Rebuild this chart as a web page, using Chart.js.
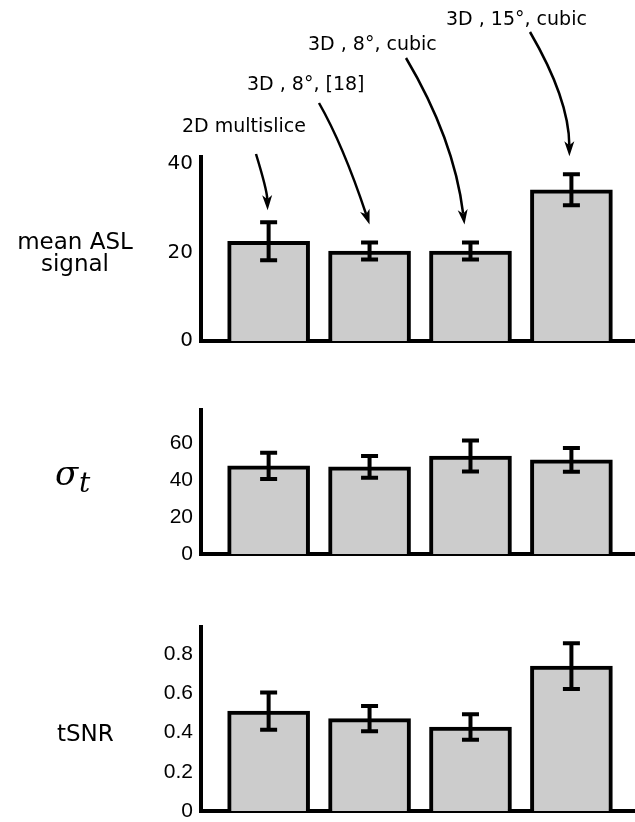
<!DOCTYPE html>
<html>
<head>
<meta charset="utf-8">
<script src="https://cdn.jsdelivr.net/npm/chart.js@4"></script>
<style>
  body { margin: 0; background: #fff; overflow: hidden; }
  canvas { position: absolute; left: 0; }
  .lbl { position: absolute; font-family: "DejaVu Sans"; color: #000; white-space: nowrap; line-height: 1; }
  .note { font-size: 19px; }
  .row { font-size: 23px; line-height: 22px; }
  .sig { position: absolute; font-family: "DejaVu Serif"; font-style: italic; line-height: 1; }
</style>
</head>
<body>
<canvas id="asl" width="635" height="352" style="top:0"></canvas>
<canvas id="sigma" width="635" height="185" style="top:380px"></canvas>
<canvas id="tsnr" width="635" height="222" style="top:600px"></canvas>

<!-- method labels above the first panel -->
<div class="lbl note" style="left:182px;top:116px">2D multislice</div>
<div class="lbl note" style="left:247px;top:74px">3D , 8°, [18]</div>
<div class="lbl note" style="left:308px;top:34px">3D , 8°, cubic</div>
<div class="lbl note" style="left:446px;top:9px">3D , 15°, cubic</div>

<!-- row labels -->
<div class="lbl row" style="left:0;width:150px;top:230px;text-align:center">mean ASL<br>signal</div>
<div class="sig" style="left:55px;top:456px;font-size:34px">σ</div>
<div class="sig" style="left:79px;top:469px;font-size:28px">t</div>
<div class="lbl row" style="left:57px;top:722px">tSNR</div>

<script>
// bar positions and method names
const positions = [1, 2, 3, 4];
const methods = ['2D multislice', '3D , 8°, [18]', '3D , 8°, cubic', '3D , 15°, cubic'];

// mean ASL signal
const aslMean = [22.5, 20.3, 20.3, 34.1];
const aslErr = [4.3, 1.9, 1.9, 3.5];
const aslTicks = [0, 20, 40];

// sigma_t
const sigmaMean = [47.7, 47.2, 53.1, 51.0];
const sigmaErr = [7.1, 5.9, 8.4, 6.4];
const sigmaTicks = [0, 20, 40, 60];

// tSNR
const tsnrMean = [0.51, 0.472, 0.429, 0.74];
const tsnrErr = [0.095, 0.065, 0.065, 0.117];
const tsnrTicks = [0, 0.2, 0.4, 0.6, 0.8];

// arrow layout (pixels): start point and bend control point
const arrowFrom = [[256, 154], [319, 103], [406, 58], [530, 32]];
const arrowBend = [[267, 190], [343, 145], [454, 139], [569, 99]];
const arrowDx = [-1, 0, -6, -2];
const arrowGap = [12, 18, 18, 18];

const errorBars = {
  id: 'errorBars',
  afterDatasetsDraw(chart, args, opts) {
    const { ctx, scales: { x, y } } = chart;
    const pts = chart.data.datasets[0].data;
    ctx.save();
    ctx.strokeStyle = '#000';
    ctx.lineWidth = 4;
    pts.forEach((d, i) => {
      const e = opts.errors[i];
      const px = x.getPixelForValue(d.x);
      const top = y.getPixelForValue(d.y + e);
      const bot = y.getPixelForValue(d.y - e);
      ctx.beginPath();
      ctx.moveTo(px, top); ctx.lineTo(px, bot);
      ctx.moveTo(px - 8.5, top); ctx.lineTo(px + 8.5, top);
      ctx.moveTo(px - 8.5, bot); ctx.lineTo(px + 8.5, bot);
      ctx.stroke();
    });
    ctx.restore();
  }
};

const arrows = {
  id: 'arrows',
  afterDraw(chart, args, opts) {
    if (!opts.on) return;
    const { ctx, scales: { x, y } } = chart;
    ctx.save();
    ctx.strokeStyle = '#000';
    ctx.fillStyle = '#000';
    ctx.lineWidth = 2.5;
    positions.forEach((p, i) => {
      const ex = x.getPixelForValue(p) + arrowDx[i];
      const ey = y.getPixelForValue(aslMean[i] + aslErr[i]) - arrowGap[i];
      const [sx, sy] = arrowFrom[i];
      const [cx, cy] = arrowBend[i];
      let dx = ex - cx, dy = ey - cy;
      const len = Math.hypot(dx, dy);
      dx /= len; dy /= len;
      const head = 15, half = 5, notch = 4;
      const nx = ex - dx * (head - notch), ny = ey - dy * (head - notch);
      const bx = ex - dx * head, by = ey - dy * head;
      ctx.beginPath();
      ctx.moveTo(sx, sy);
      ctx.quadraticCurveTo(cx, cy, nx, ny);
      ctx.stroke();
      ctx.beginPath();
      ctx.moveTo(ex, ey);
      ctx.lineTo(bx - dy * half, by + dx * half);
      ctx.lineTo(nx, ny);
      ctx.lineTo(bx + dy * half, by - dx * half);
      ctx.closePath();
      ctx.fill();
    });
    ctx.restore();
  }
};

function panel(id, means, errs, ticks, yMax, pad, tickFont, showArrows) {
  new Chart(document.getElementById(id), {
    type: 'bar',
    data: {
      datasets: [{
        data: positions.map((p, i) => ({ x: p, y: means[i] })),
        backgroundColor: '#cccccc',
        borderColor: '#000',
        borderWidth: 4,
        barThickness: 82
      }]
    },
    options: {
      responsive: false,
      animation: false,
      events: [],
      layout: { padding: { top: pad[0], bottom: pad[1], left: 0, right: 0 } },
      scales: {
        x: {
          type: 'linear',
          offset: false,
          min: 0.33,
          max: 4.63,
          grid: { display: false, drawTicks: false },
          ticks: { display: false },
          border: { color: '#000', width: 4 },
          afterFit: s => { s.height = 0; }
        },
        y: {
          min: 0,
          max: yMax,
          grid: { display: false, drawTicks: false },
          border: { color: '#000', width: 4 },
          ticks: { color: '#000', font: tickFont, padding: 8, callback: v => String(v) },
          afterBuildTicks: s => { s.ticks = ticks.map(v => ({ value: v })); },
          afterFit: s => { s.width = 201; s.paddingTop = 0; s.paddingBottom = 0; }
        }
      },
      plugins: {
        legend: { display: false },
        tooltip: { enabled: false },
        errorBars: { errors: errs },
        arrows: { on: showArrows }
      }
    },
    plugins: [errorBars, arrows]
  });
}

panel('asl', aslMean, aslErr, aslTicks, 41.5, [157, 11], { family: 'DejaVu Sans', size: 20 }, true);
panel('sigma', sigmaMean, sigmaErr, sigmaTicks, 78, [30, 11], { family: 'Liberation Sans', size: 21 }, false);
panel('tsnr', tsnrMean, tsnrErr, tsnrTicks, 0.94, [27, 11], { family: 'Liberation Sans', size: 21 }, false);
</script>
</body>
</html>
